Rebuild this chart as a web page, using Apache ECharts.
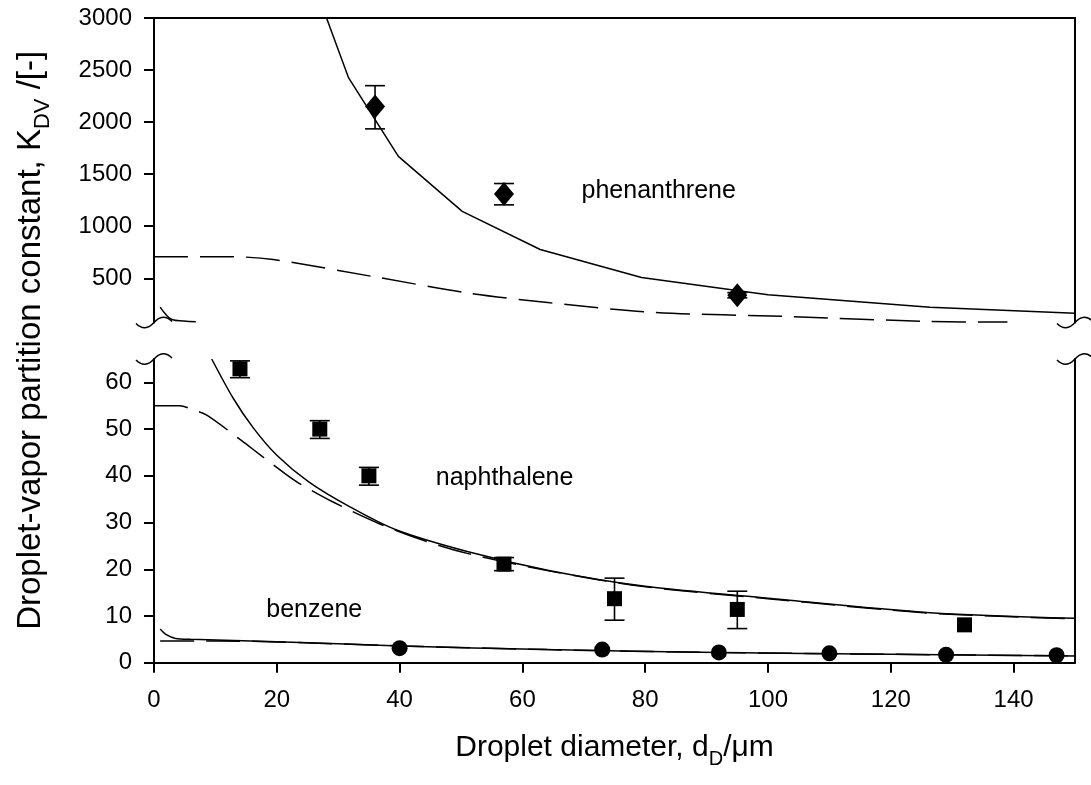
<!DOCTYPE html>
<html><head><meta charset="utf-8">
<script src="https://cdn.jsdelivr.net/npm/echarts@6/dist/echarts.min.js"></script>
<style>html,body{margin:0;padding:0;background:#fff}#c{width:1091px;height:785px}</style>
</head><body><div id="c"></div>
<script>
// ---------- data (x = droplet diameter in µm, y = K_DV) ----------
const phenPts    = [[36,2150],[57,1310],[95,337]];
const phenErr    = [[36,1935,2350],[57,1205,1410],[95,312,362]];
const phenSolid  = [[28.1,3000],[31.7,2424],[39.8,1671],[50.2,1143],[62.9,776],[79.4,507],[100,341],[126.4,222],[150,165]];
const phenDashed = [[0,706],[12.9,706],[19.4,680],[36.3,510],[51,360],[64.5,264],[81.4,173],[103.9,131],[126.4,85],[139,79]];
const phenShort  = [[1,222],[1.8,161],[2.9,104],[4.8,89],[6.8,82]];

const naphPts    = [[14,62.9],[27,50.0],[35,40.0],[57,21.1],[75,13.7],[95,11.4],[132,8.1]];
const naphErr    = [[14,61.0,64.6],[27,48.0,51.8],[35,38.0,41.8],[57,19.7,22.5],[75,9.1,18.1],[95,7.3,15.3]];
const naphSolid  = [[9.4,65],[12.9,56.6],[16.2,50.2],[20,44.4],[25.2,38.7],[31.7,33.5],[39.3,28.5],[51,23.8],[64.5,19.7],[79.7,16.4],[100,13.8],[126.4,10.7],[150,9.5]];
const naphDashed = [[0,55],[4.2,55],[6.4,54.1],[8.6,53],[14,47.8],[15.9,45.9],[21.4,40.4],[23.5,38.5],[29,34.5],[36.6,29.8],[43.6,26.3],[51,23.4],[64.5,19.6],[79.7,16.3],[100,13.7],[126.4,10.6],[150,9.4]];

const benzPts    = [[40,3.1],[73,2.8],[92,2.2],[110,2.0],[129,1.7],[147,1.6]];
const benzSolid  = [[1,7.2],[2,6.0],[3.5,5.2],[6,5.0],[20,4.5],[40,3.6],[64,2.8],[92,2.2],[120,1.8],[150,1.45]];
const benzDashed = [[1,4.65],[10,4.65],[20,4.45],[40,3.6],[64,2.8],[92,2.2],[120,1.8],[150,1.45]];

const xTicks       = [0,20,40,60,80,100,120,140];
const yTicksTop    = [500,1000,1500,2000,2500,3000];
const yTicksBottom = [0,10,20,30,40,50,60];

// annotation texts (placed in data coordinates of the given grid)
const annotations = [
  {text:'phenanthrene', at:[82.2,1338], grid:0},
  {text:'naphthalene',  at:[57.1,39.5], grid:1},
  {text:'benzene',      at:[26.1,11.3], grid:1}
];

// ---------- layout / style ----------
const FONT = 'Liberation Sans, Arial, Helvetica, sans-serif';
const L = 154, RIGHT_EDGE = 1075, W = 1091;
const TOP0 = 18, H0 = 304.5, TOP1 = 359, H1 = 303.7;
const AX = {color:'#000', width:2};
const DASH = [34,12];
const plain = function(v){ return String(v); };

function axisCommon(extra){
  return Object.assign({type:'value', splitLine:{show:false}, axisLine:{show:true, onZero:false, lineStyle:AX}}, extra);
}
function lineS(data, xi, yi, dashed, smooth){
  return {type:'line', xAxisIndex:xi, yAxisIndex:yi, data:data, symbol:'none', showSymbol:false,
    smooth:smooth||false, clip:true, silent:true, z:2,
    lineStyle:{color:'#000', width:1.5, type: dashed ? DASH : 'solid'}};
}
function errS(data, xi, yi){
  return {type:'custom', xAxisIndex:xi, yAxisIndex:yi, data:data, encode:{x:0, y:[1,2]}, z:3, silent:true,
    renderItem:function(params, api){
      const x = api.value(0);
      const lo = api.coord([x, api.value(1)]), hi = api.coord([x, api.value(2)]);
      const hw = 10, st = {stroke:'#000', lineWidth:1.6};
      return {type:'group', children:[
        {type:'line', shape:{x1:lo[0],y1:lo[1],x2:hi[0],y2:hi[1]}, style:st},
        {type:'line', shape:{x1:lo[0]-hw,y1:lo[1],x2:lo[0]+hw,y2:lo[1]}, style:st},
        {type:'line', shape:{x1:hi[0]-hw,y1:hi[1],x2:hi[0]+hw,y2:hi[1]}, style:st}
      ]};
    }};
}
function scatS(data, xi, yi, symbol, size){
  return {type:'scatter', xAxisIndex:xi, yAxisIndex:yi, data:data, symbol:symbol, symbolSize:size, z:4,
    itemStyle:{color:'#000', opacity:1}, silent:true};
}
const labelStyle = {color:'#000', fontSize:24, fontFamily:FONT, formatter:plain};

const chart = echarts.init(document.getElementById('c'), null, {renderer:'canvas'});
const option = {
  animation:false,
  backgroundColor:'#fff',
  textStyle:{fontFamily:FONT},
  grid:[
    {left:L, right:W-RIGHT_EDGE, top:TOP0, height:H0},
    {left:L, right:W-RIGHT_EDGE, top:TOP1, height:H1}
  ],
  xAxis:[
    axisCommon({gridIndex:0, min:0, max:150, position:'top', axisTick:{show:false}, axisLabel:{show:false}}),
    axisCommon({gridIndex:1, min:0, max:150, position:'bottom',
      axisTick:{show:true, length:10, lineStyle:AX, customValues:xTicks},
      axisLabel:Object.assign({customValues:xTicks, margin:26}, labelStyle)})
  ],
  yAxis:[
    axisCommon({gridIndex:0, min:75, max:3000, position:'left',
      axisTick:{show:true, length:10, lineStyle:AX, customValues:yTicksTop},
      axisLabel:Object.assign({customValues:yTicksTop, margin:22}, labelStyle)}),
    axisCommon({gridIndex:0, min:75, max:3000, position:'right', axisTick:{show:false}, axisLabel:{show:false}}),
    axisCommon({gridIndex:1, min:0, max:65, position:'left',
      axisTick:{show:true, length:10, lineStyle:AX, customValues:yTicksBottom},
      axisLabel:Object.assign({customValues:yTicksBottom, margin:22}, labelStyle)}),
    axisCommon({gridIndex:1, min:0, max:65, position:'right', axisTick:{show:false}, axisLabel:{show:false}})
  ],
  series:[
    lineS(phenSolid, 0, 0, false, false),
    lineS(phenDashed, 0, 0, true, 0.3),
    lineS(phenShort, 0, 0, false, 0.4),
    errS(phenErr, 0, 0),
    scatS(phenPts, 0, 0, 'diamond', [20,24]),
    lineS(naphSolid, 1, 2, false, 0.3),
    lineS(naphDashed, 1, 2, true, 0.3),
    lineS(benzSolid, 1, 2, false, 0.3),
    lineS(benzDashed, 1, 2, true, 0.3),
    errS(naphErr, 1, 2),
    scatS(naphPts, 1, 2, 'rect', 15),
    scatS(benzPts, 1, 2, 'circle', 16)
  ]
};
chart.setOption(option);

// ---------- decorations: titles, annotations, axis-break marks ----------
const g = [];
annotations.forEach(function(a){
  const p = chart.convertToPixel({gridIndex:a.grid}, a.at);
  g.push({type:'text', x:p[0], y:p[1], silent:true,
    style:{text:a.text, fill:'#000', font:'25px ' + FONT, align:'center', verticalAlign:'middle'}});
});
function titleRich(size){
  return {
    a:{fontSize:size, fontFamily:FONT, fill:'#000', lineHeight:size*1.4, verticalAlign:'middle'},
    s:{fontSize:Math.round(size*0.66), fontFamily:FONT, fill:'#000', lineHeight:Math.round(size*0.66), verticalAlign:'bottom'}
  };
}
// x axis title
g.push({type:'text', x:(L+RIGHT_EDGE)/2, y:748, silent:true,
  style:{text:'{a|Droplet diameter, d}{s|D}{a|/\u03bcm}', align:'center', verticalAlign:'middle', rich:titleRich(30)}});
// y axis title
g.push({type:'text', x:31, y:(TOP0 + TOP1 + H1)/2, rotation:Math.PI/2, silent:true,
  style:{text:'{a|Droplet-vapor partition constant, K}{s|DV}{a| /[-]}', align:'center', verticalAlign:'middle', rich:titleRich(33)}});
// break marks (tilde) at the ends of the broken vertical axes
function tilde(x, y){
  const st = {stroke:'#000', lineWidth:1.5, fill:null};
  g.push({type:'bezierCurve', silent:true, shape:{x1:x-18,y1:y+1, x2:x,y2:y, cpx1:x-9,cpy1:y+10}, style:st});
  g.push({type:'bezierCurve', silent:true, shape:{x1:x,y1:y, x2:x+18,y2:y-1, cpx1:x+9,cpy1:y-10}, style:st});
}
const yBreakTop = TOP0 + H0, yBreakBot = TOP1;
tilde(L, yBreakTop); tilde(RIGHT_EDGE, yBreakTop);
tilde(L, yBreakBot); tilde(RIGHT_EDGE, yBreakBot);
chart.setOption({graphic:g});
</script></body></html>
